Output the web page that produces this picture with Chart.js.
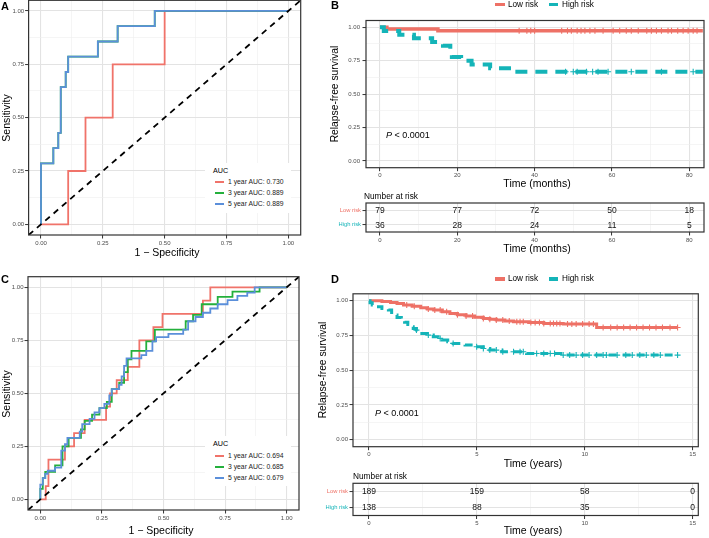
<!DOCTYPE html>
<html><head><meta charset="utf-8">
<script src="https://cdn.jsdelivr.net/npm/chart.js@4/dist/chart.umd.min.js"></script>
<style>
body{margin:0;width:709px;height:538px;background:#fff;position:relative;overflow:hidden;}
canvas{position:absolute;}
.t{position:absolute;white-space:nowrap;line-height:1;}
.box{position:absolute;background:#fff;}
</style></head><body>
<script>
// ---------------- DATA ----------------
// Panel A: ROC curves, [1 - specificity, sensitivity]
const rocA_1yr = [[0,0],[0.11,0],[0.11,0.25],[0.18,0.25],[0.18,0.5],[0.29,0.5],[0.29,0.75],[0.5,0.75],[0.5,1],[1,1]];
const rocA_3yr = [[0,0],[0,0.286],[0.05,0.286],[0.05,0.357],[0.07,0.357],[0.07,0.429],[0.08,0.429],[0.08,0.643],[0.1,0.643],[0.1,0.714],[0.11,0.714],[0.11,0.786],[0.23,0.786],[0.23,0.857],[0.31,0.857],[0.31,0.929],[0.46,0.929],[0.46,1],[1,1]];
const rocA_5yr = [[0,0],[0,0.286],[0.05,0.286],[0.05,0.357],[0.07,0.357],[0.07,0.429],[0.08,0.429],[0.08,0.643],[0.1,0.643],[0.1,0.714],[0.11,0.714],[0.11,0.786],[0.23,0.786],[0.23,0.857],[0.31,0.857],[0.31,0.929],[0.46,0.929],[0.46,1],[1,1]];
const aucA = [0.730, 0.889, 0.889];
// Panel C: ROC curves
const rocC_1yr = [[0,0],[0.022,0],[0.022,0.0625],[0.033,0.0625],[0.033,0.1875],[0.1,0.1875],[0.1,0.25],[0.137,0.25],[0.137,0.3125],[0.18,0.3125],[0.18,0.375],[0.267,0.375],[0.267,0.4375],[0.283,0.4375],[0.283,0.5],[0.31,0.5],[0.31,0.5625],[0.355,0.5625],[0.355,0.625],[0.402,0.625],[0.402,0.75],[0.459,0.75],[0.459,0.8125],[0.496,0.8125],[0.496,0.875],[0.66,0.875],[0.66,0.9375],[0.69,0.9375],[0.69,1],[1,1]];
const rocC_3yr = [[0,0],[0,0.05],[0.01,0.05],[0.01,0.1],[0.02,0.1],[0.02,0.13],[0.06,0.13],[0.06,0.16],[0.09,0.16],[0.09,0.25],[0.115,0.25],[0.115,0.29],[0.165,0.29],[0.165,0.33],[0.18,0.33],[0.18,0.37],[0.21,0.37],[0.21,0.4],[0.24,0.4],[0.24,0.43],[0.27,0.43],[0.27,0.46],[0.29,0.46],[0.29,0.52],[0.32,0.52],[0.32,0.55],[0.34,0.55],[0.34,0.6],[0.355,0.6],[0.355,0.66],[0.37,0.66],[0.37,0.7],[0.43,0.7],[0.43,0.745],[0.465,0.745],[0.465,0.8],[0.59,0.8],[0.59,0.84],[0.62,0.84],[0.62,0.87],[0.655,0.87],[0.655,0.92],[0.72,0.92],[0.72,0.955],[0.78,0.955],[0.78,0.98],[0.89,0.98],[0.89,1],[1,1]];
const rocC_5yr = [[0,0],[0,0.07],[0.01,0.07],[0.01,0.1],[0.02,0.1],[0.02,0.12],[0.03,0.12],[0.03,0.135],[0.06,0.135],[0.06,0.15],[0.085,0.15],[0.085,0.23],[0.1,0.23],[0.1,0.26],[0.11,0.26],[0.11,0.29],[0.16,0.29],[0.16,0.32],[0.17,0.32],[0.17,0.355],[0.2,0.355],[0.2,0.38],[0.22,0.38],[0.22,0.41],[0.24,0.41],[0.24,0.43],[0.26,0.43],[0.26,0.45],[0.28,0.45],[0.28,0.49],[0.29,0.49],[0.29,0.52],[0.32,0.52],[0.32,0.54],[0.33,0.54],[0.33,0.58],[0.34,0.58],[0.34,0.63],[0.35,0.63],[0.35,0.665],[0.41,0.665],[0.41,0.68],[0.43,0.68],[0.43,0.7],[0.455,0.7],[0.455,0.745],[0.47,0.745],[0.47,0.765],[0.52,0.765],[0.52,0.78],[0.58,0.78],[0.58,0.8],[0.6,0.8],[0.6,0.84],[0.63,0.84],[0.63,0.86],[0.66,0.86],[0.66,0.88],[0.69,0.88],[0.69,0.9],[0.72,0.9],[0.72,0.92],[0.76,0.92],[0.76,0.94],[0.8,0.94],[0.8,0.96],[0.84,0.96],[0.84,0.975],[0.87,0.975],[0.87,1],[1,1]];
const aucC = [0.694, 0.685, 0.679];
const rocYears = ['1 year', '3 year', '5 year'];
const diagonal = [[-0.05,-0.05],[1.05,1.05]];

// Panel B: Kaplan-Meier, [months, survival]
const kmB_low  = [[0,1],[1.8,0.987],[15,0.974],[83.5,0.974]];
const kmB_high = [[0,1],[1,0.972],[5,0.944],[8.8,0.917],[13.5,0.889],[16.3,0.861],[18.2,0.833],[18.4,0.806],[18.6,0.778],[21,0.75],[23.7,0.722],[28.5,0.694],[34.8,0.667],[83.5,0.667]];
const censB_low  = [36,38,39,40,47,48.5,49.5,51,52,53,54.3,55.6,57.7,60.3,62,63.7,65,66.8,69,70.2,71.5,72.8,74.5,75.4,77,78.4,79.7,81,82];
const censB_high = [48,50,51,53.4,55,56.4,59,65,72.8,81];
const riskB_times = [0,20,40,60,80];
const riskB_low   = [79,77,72,50,18];
const riskB_high  = [36,28,24,11,5];

// Panel D: Kaplan-Meier, [years, survival]
const kmD_low  = [[0,1],[0.6,0.995],[1.0,0.988],[1.3,0.98],[1.6,0.969],[2.0,0.96],[2.4,0.95],[2.7,0.941],[3.0,0.933],[3.4,0.921],[3.75,0.909],[4.1,0.9],[4.5,0.89],[4.9,0.882],[5.3,0.873],[5.6,0.867],[5.9,0.861],[6.3,0.855],[6.7,0.849],[7.4,0.843],[8.1,0.837],[9.0,0.832],[10.55,0.808],[14.3,0.808]];
const kmD_high = [[0,1],[0.05,0.985],[0.15,0.97],[0.35,0.957],[0.6,0.945],[0.9,0.933],[1.05,0.915],[1.15,0.897],[1.3,0.88],[1.5,0.861],[1.65,0.845],[1.8,0.829],[1.9,0.813],[2.05,0.8],[2.2,0.789],[2.35,0.777],[2.45,0.765],[2.7,0.753],[2.98,0.741],[3.2,0.729],[3.4,0.717],[3.65,0.705],[3.9,0.693],[4.45,0.681],[4.99,0.669],[5.3,0.657],[5.6,0.645],[6.15,0.633],[7.3,0.621],[9.0,0.609],[14.3,0.609]];
const censD_low  = [1.75,2.1,2.75,3.05,3.3,3.6,4.1,4.5,4.8,5.3,5.6,5.9,6.2,6.5,6.85,7.0,7.15,7.5,7.7,7.9,8.1,8.4,8.55,8.7,8.85,9.2,9.4,9.6,9.9,10.2,10.4,10.85,11.2,11.5,11.8,12.1,12.4,12.7,13.0,13.3,13.6,13.95,14.3];
const censD_high = [2.2,2.75,3.3,3.9,4.99,5.3,5.6,5.9,6.2,6.7,7.0,7.15,7.77,8.1,8.4,8.6,9.0,9.3,9.6,9.9,10.2,10.55,10.85,11.0,11.5,11.9,12.2,12.55,12.85,13.2,13.5,14.3];
const riskD_times = [0,5,10,15];
const riskD_low   = [189,159,58,0];
const riskD_high  = [138,88,35,0];

const groups = ['Low risk', 'High risk'];
const rocTicks = [0, 0.25, 0.5, 0.75, 1];
const rocMinor = [0.125, 0.375, 0.625, 0.875];
const survTicks = [0, 0.25, 0.5, 0.75, 1];
const survMinor = [0.125, 0.375, 0.625, 0.875];
const monthTicks = [0, 20, 40, 60, 80];
const monthMinor = [10, 30, 50, 70];
const yearTicks = [0, 5, 10, 15];
const yearMinor = [2.5, 7.5, 12.5];

// ---------------- STYLE ----------------
const FONT = '"Liberation Sans", Arial, Helvetica, sans-serif';
const ROC_COL = ['#F0736A', '#24B03C', '#5B8FDA'];
const RED = '#EE7166', TEAL = '#14B4B8';

const pts = a => a.map(p => ({x: p[0], y: p[1]}));
function survAt(curve, t) { let s = curve[0][1]; for (const p of curve) { if (p[0] <= t) s = p[1]; } return s; }

const frame = { id: 'frame', afterDatasetsDraw(ch) { const a = ch.chartArea, c = ch.ctx; c.save(); c.strokeStyle = '#333333'; c.lineWidth = 1.2; c.strokeRect(a.left, a.top, a.right - a.left, a.bottom - a.top); c.restore(); } };
const tableText = { id: 'tableText', afterDatasetsDraw(ch) { const c = ch.ctx; c.save(); c.font = '8.5px ' + FONT; c.fillStyle = '#111'; c.textAlign = 'center'; c.textBaseline = 'middle';
  ch.data.datasets.forEach((ds, i) => { ch.getDatasetMeta(i).data.forEach((el, j) => { c.fillText(String(ds.data[j].n), el.x, el.y + 0.5); }); }); c.restore(); } };

function lin(min, max, majors, minors, fmt, pos, pad) {
  const all = majors.concat(minors).sort((a, b) => a - b);
  const isMaj = v => majors.indexOf(v) >= 0;
  return {
    type: 'linear', position: pos, min: min, max: max,
    afterBuildTicks: s => { s.ticks = all.map(v => ({value: v})); },
    ticks: { autoSkip: false, maxRotation: 0, minRotation: 0, padding: pad == null ? 1 : pad, color: '#4D4D4D', font: {family: FONT, size: 6}, callback: v => isMaj(v) ? fmt(v) : '' },
    grid: { color: c => (c.tick && isMaj(c.tick.value)) ? '#E3E3E3' : '#EFEFEF', lineWidth: c => (c.tick && isMaj(c.tick.value)) ? 1.1 : 0.6,
            drawTicks: true, tickLength: 3.5, tickWidth: 1, tickColor: c => (c.tick && isMaj(c.tick.value)) ? '#333333' : 'rgba(0,0,0,0)' },
    border: { display: false }
  };
}
function cat(labels) {
  return { type: 'category', labels: labels, offset: true, position: 'left',
    ticks: { padding: 1.5, color: c => c.index === 0 ? RED : TEAL, font: {family: FONT, size: 5.8} },
    grid: { offset: false, color: '#E3E3E3', lineWidth: 1.1, drawTicks: true, tickLength: 3.5, tickWidth: 1, tickColor: '#333333' },
    border: { display: false } };
}

function makeChart(area, cfg) {
  const cl = Math.floor(area.l - 40), ct = Math.floor(area.t - 8);
  const w = Math.ceil(area.r - cl + 12), h = Math.ceil(area.b - ct + 22);
  const padL = area.l - cl, padT = area.t - ct, padR = w - (area.r - cl), padB = h - (area.b - ct);
  const cv = document.createElement('canvas');
  cv.width = w; cv.height = h;
  cv.style.left = cl + 'px'; cv.style.top = ct + 'px'; cv.style.width = w + 'px'; cv.style.height = h + 'px';
  document.body.appendChild(cv);
  cfg.scales.x.afterFit = s => { s.height = padB; };
  cfg.scales.y.afterFit = s => { s.width = padL; };
  return new Chart(cv, {
    type: 'scatter',
    data: { datasets: cfg.datasets },
    options: { responsive: false, animation: false, devicePixelRatio: 1, events: [],
      layout: { padding: { left: 0, top: padT, right: padR, bottom: 0 } },
      scales: cfg.scales,
      plugins: { legend: { display: false }, tooltip: { enabled: false } } },
    plugins: [frame].concat(cfg.plugins || [])
  });
}

const f2 = v => v.toFixed(2);
const f0 = v => String(v);

function rocDatasets(curves) {
  const ds = [{ data: pts(diagonal), showLine: true, borderColor: '#000', borderWidth: 1.8, borderDash: [6, 5], pointRadius: 0, order: 0 }];
  curves.forEach((c, i) => ds.push({ data: pts(c), showLine: true, borderColor: ROC_COL[i], borderWidth: 1.8, pointRadius: 0, order: 3 - i }));
  return ds;
}
function kmDatasets(low, high, cLow, cHigh, wLow, wHigh, dash) {
  return [
    { data: cHigh.map(t => ({x: t, y: survAt(high, t)})), showLine: false, pointStyle: 'cross', pointRadius: 3, pointBorderColor: TEAL, pointBorderWidth: 1.1, order: 0 },
    { data: pts(high), showLine: true, stepped: true, borderColor: TEAL, borderWidth: wHigh, borderDash: dash, pointRadius: 0, order: 1 },
    { data: cLow.map(t => ({x: t, y: survAt(low, t)})), showLine: false, pointStyle: 'cross', pointRadius: 3, pointBorderColor: RED, pointBorderWidth: 1.1, order: 2 },
    { data: pts(low), showLine: true, stepped: true, borderColor: RED, borderWidth: wLow, pointRadius: 0, order: 3 }
  ];
}
function tableDatasets(times, low, high) {
  return [
    { data: times.map((t, i) => ({x: t, y: groups[0], n: low[i]})), showLine: false, pointRadius: 0 },
    { data: times.map((t, i) => ({x: t, y: groups[1], n: high[i]})), showLine: false, pointRadius: 0 }
  ];
}

// ---------------- CHARTS ----------------
makeChart({l: 28.6, t: 0.3, r: 300.7, b: 235}, {
  scales: { x: lin(-0.05, 1.05, rocTicks, rocMinor, f2, 'bottom'), y: lin(-0.05, 1.05, rocTicks, rocMinor, f2, 'left') },
  datasets: rocDatasets([rocA_1yr, rocA_3yr, rocA_5yr]) });
makeChart({l: 28, t: 276.7, r: 299, b: 510}, {
  scales: { x: lin(-0.05, 1.05, rocTicks, rocMinor, f2, 'bottom'), y: lin(-0.05, 1.05, rocTicks, rocMinor, f2, 'left') },
  datasets: rocDatasets([rocC_1yr, rocC_3yr, rocC_5yr]) });
makeChart({l: 366, t: 20.5, r: 704, b: 167.7}, {
  scales: { x: lin(-3.6, 83.8, monthTicks, monthMinor, f0, 'bottom'), y: lin(-0.05, 1.05, survTicks, survMinor, f2, 'left', 2.5) },
  datasets: kmDatasets(kmB_low, kmB_high, censB_low, censB_high, 3.5, 4, [12, 8]) });
makeChart({l: 366, t: 203, r: 704, b: 232}, {
  scales: { x: lin(-3.6, 83.8, monthTicks, monthMinor, f0, 'bottom'), y: cat(groups) },
  datasets: tableDatasets(riskB_times, riskB_low, riskB_high), plugins: [tableText] });
makeChart({l: 353, t: 293.8, r: 698.3, b: 446.7}, {
  scales: { x: lin(-0.74, 15.26, yearTicks, yearMinor, f0, 'bottom'), y: lin(-0.05, 1.05, survTicks, survMinor, f2, 'left', 1.5) },
  datasets: kmDatasets(kmD_low, kmD_high, censD_low, censD_high, 3, 3, [8, 6]) });
makeChart({l: 353, t: 483.3, r: 698.3, b: 515.5}, {
  scales: { x: lin(-0.74, 15.26, yearTicks, yearMinor, f0, 'bottom'), y: cat(groups) },
  datasets: tableDatasets(riskD_times, riskD_low, riskD_high), plugins: [tableText] });

// ---------------- TEXT ----------------
function txt(s, x, y, o) {
  o = o || {};
  const d = document.createElement('div'); d.className = 't';
  d.innerHTML = s;
  d.style.fontFamily = FONT; d.style.fontSize = o.size + 'px'; d.style.fontWeight = o.bold ? 'bold' : 'normal';
  d.style.color = o.color || '#000';
  const tx = o.align === 'left' ? '0' : (o.align === 'right' ? '-100%' : '-50%');
  d.style.left = x + 'px'; d.style.top = y + 'px';
  d.style.transform = 'translate(' + tx + ',-50%)' + (o.rot ? ' rotate(' + o.rot + 'deg)' : '');
  document.body.appendChild(d);
}
function box(x, y, w, h, col) { const d = document.createElement('div'); d.className = 'box'; d.style.left = x + 'px'; d.style.top = y + 'px'; d.style.width = w + 'px'; d.style.height = h + 'px'; if (col) d.style.background = col; document.body.appendChild(d); }

// panel letters
txt('A', 5, 6, {size: 11, bold: true});
txt('B', 335, 5, {size: 11, bold: true});
txt('C', 5, 279, {size: 11, bold: true});
txt('D', 335, 279, {size: 11, bold: true});

// ROC axis titles
txt('1 \u2212 Specificity', 167, 252, {size: 10.5});
txt('Sensitivity', 6, 118, {size: 10.5, rot: -90});
txt('1 \u2212 Specificity', 161, 530, {size: 10.5});
txt('Sensitivity', 6, 394, {size: 10.5, rot: -90});

// ROC legends
function rocLegend(x, y, aucs) {
  box(x - 8, y - 8, 86, 50);
  txt('AUC', x, y, {size: 7.2, align: 'left'});
  aucs.forEach((a, i) => {
    const yy = y + 11.5 + i * 11;
    box(x + 2, yy - 0.9, 9, 1.8, ROC_COL[i]);
    txt(rocYears[i] + ' AUC: ' + a.toFixed(3), x + 15, yy, {size: 6.8, align: 'left', color: '#222'});
  });
}
rocLegend(213, 170.7, aucA);
rocLegend(213, 444.3, aucC);

// KM titles and annotations
function kmLegend(y) {
  box(495, y - 1.8, 10, 3.6, RED);
  txt(groups[0], 508, y, {size: 8.2, align: 'left'});
  box(549, y - 1.8, 9, 3.6, TEAL);
  txt(groups[1], 562, y, {size: 8.2, align: 'left'});
}
kmLegend(4.5);
kmLegend(279);
txt('Relapse-free survival', 335, 94, {size: 10.3, rot: -90});
txt('Relapse-free survival', 323, 370, {size: 10.3, rot: -90});
txt('Time (months)', 537, 183, {size: 10.5});
txt('Time (months)', 537, 248, {size: 10.5});
txt('Time (years)', 533, 463, {size: 10.5});
txt('Time (years)', 533, 530, {size: 10.5});
txt('<i>P</i> &lt; 0.0001', 386, 135, {size: 9, align: 'left'});
txt('<i>P</i> &lt; 0.0001', 375, 413, {size: 9, align: 'left'});
txt('Number at risk', 364, 196, {size: 8.3, align: 'left'});
txt('Number at risk', 353, 476, {size: 8.3, align: 'left'});
</script>
</body></html>
